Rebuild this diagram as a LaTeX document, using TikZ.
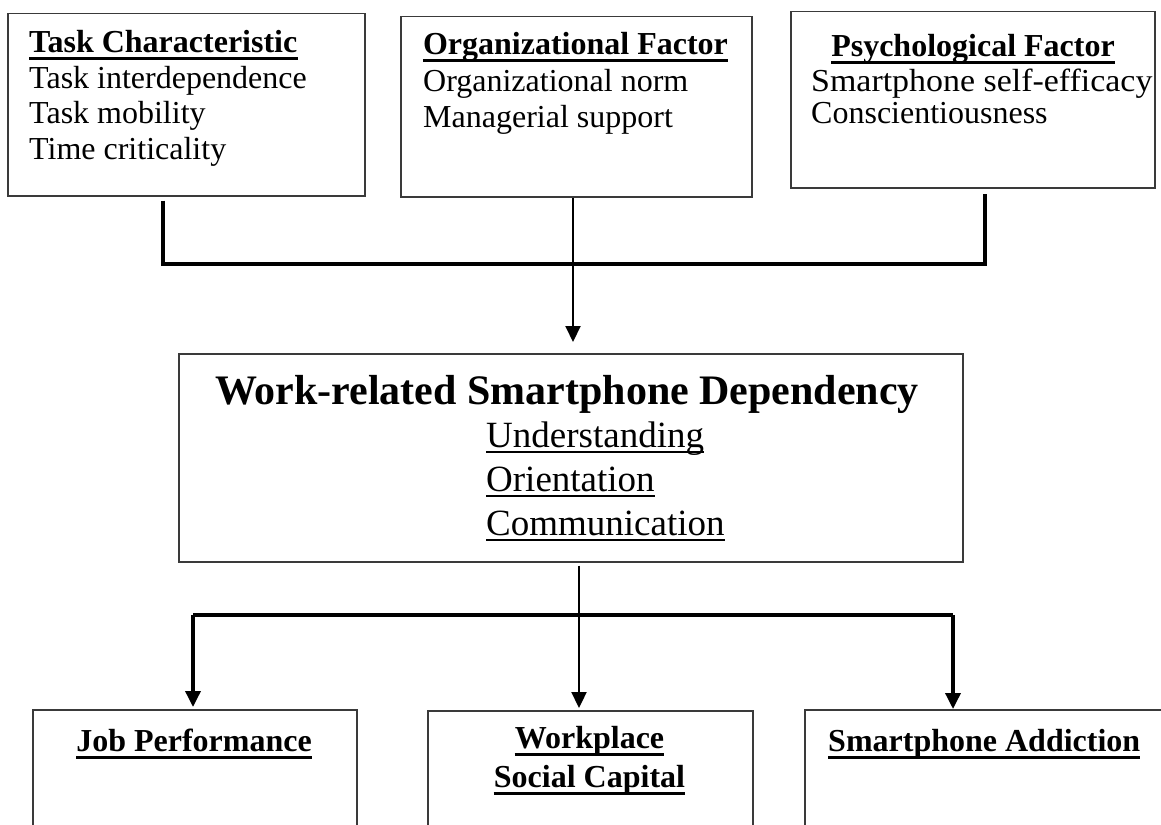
\documentclass[tikz,border=0pt]{standalone}
\usepackage{fontspec}
\setmainfont{Liberation Serif}
\usetikzlibrary{arrows.meta}
\definecolor{boxgray}{HTML}{3A3A3A}
% rule drawn under a text node: node name, rule width, depth below baseline
\newcommand{\underrule}[3]{%
  \draw[line width=#2] ([yshift=-#3]#1.base west) -- ([yshift=-#3]#1.base east);}
\begin{document}
\begin{tikzpicture}[x=1pt,y=-1pt,
  box/.style={draw=boxgray,line width=1.5pt,inner sep=0pt,anchor=north west},
  lbl/.style={inner sep=0pt,font=\fontsize{32}{35}\selectfont},
  head/.style={inner sep=0pt,font=\fontsize{32}{35}\selectfont\bfseries},
  bighead/.style={inner sep=0pt,font=\fontsize{42}{46}\selectfont\bfseries},
  item/.style={inner sep=0pt,font=\fontsize{37}{42}\selectfont,anchor=base west},
  heavy/.style={line width=4pt},
  light/.style={line width=2pt},
  tip/.style={-{Triangle[width=15pt,length=16pt]}}
]
\clip (0,0) rectangle (1161,824);
\fill[white] (0,0) rectangle (1161,824);

% ---- antecedent boxes ----
\node[box,minimum width=357pt,minimum height=182pt] (task) at (7,13) {};
\node[box,minimum width=351pt,minimum height=180pt] (org) at (400,16) {};
\node[box,minimum width=364pt,minimum height=176pt] (psych) at (790,11) {};

\node[head,anchor=base west] (taskh) at (29,53) {Task Characteristic};
\underrule{taskh}{3pt}{6pt}
\node[lbl,anchor=base west] (task1) at (29,89) {Task interdependence};
\node[lbl,anchor=base west] (task2) at (29,124) {Task mobility};
\node[lbl,anchor=base west] (task3) at (29,159) {Time criticality};

\node[head,anchor=base] (orgh) at (575.5,55) {Organizational Factor};
\underrule{orgh}{3pt}{6pt}
\node[lbl,anchor=base west] (org1) at (423,92) {Organizational norm};
\node[lbl,anchor=base west] (org2) at (423,128) {Managerial support};

\node[head,anchor=base] (psychh) at (973,57) {Psychological Factor};
\underrule{psychh}{3pt}{6pt}
\node[lbl,anchor=base west] (psych1) at (811,92) {\scalebox{1.06}[1]{Smartphone self-efficacy}};
\node[lbl,anchor=base west] (psych2) at (811,124) {Conscientiousness};

% ---- central construct ----
\node[box,minimum width=784pt,minimum height=208pt] (mid) at (178,353) {};
\node[bighead,anchor=base] (midh) at (567,404) {Work-related Smartphone Dependency};
\node[item] (mid1) at (486,447) {Understanding};
\underrule{mid1}{2pt}{5pt}
\node[item] (mid2) at (486,491) {Orientation};
\underrule{mid2}{2pt}{5pt}
\node[item] (mid3) at (486,535) {Communication};
\underrule{mid3}{2pt}{5pt}

% ---- outcome boxes ----
\node[box,minimum width=324pt,minimum height=140pt] (job) at (32,709) {};
\node[box,minimum width=325pt,minimum height=140pt] (work) at (427,710) {};
\node[box,minimum width=380pt,minimum height=140pt] (addict) at (804,709) {};

\node[head,anchor=base] (jobh) at (194,751) {Job Performance};
\underrule{jobh}{3pt}{6pt}
\node[head,anchor=base] (workh1) at (589.5,748) {Workplace};
\underrule{workh1}{3pt}{6pt}
\node[head,anchor=base] (workh2) at (589.5,787) {Social Capital};
\underrule{workh2}{3pt}{6pt}
\node[head,anchor=base west] (addicth) at (828,751) {Smartphone Addiction};
\underrule{addicth}{3pt}{6pt}

% ---- connectors: antecedents merge into the central construct ----
\coordinate (tj) at (163,264);
\coordinate (pj) at (985,264);
\coordinate (ax) at (573,264);
\draw[heavy] ([yshift=-4pt]task.south -| tj) -- (tj) -- (pj) -- ([yshift=-5pt]psych.south -| pj);
\draw[light,tip] (org.south -| ax) -- ([yshift=11pt]mid.north -| ax);

% ---- connectors: central construct fans out to outcomes ----
\coordinate (bl) at (193,615);
\coordinate (br) at (953,615);
\coordinate (bx) at (579,615);
\draw[line width=3.3pt] (bl) -- (br);
\draw[line width=3.5pt,tip] (bl) -- ([yshift=2pt]job.north -| bl);
\draw[line width=3.5pt,tip] (br) -- (addict.north -| br);
\draw[line width=2.3pt,tip] ([yshift=-3pt]mid.south -| bx) -- ([yshift=2pt]work.north -| bx);
\end{tikzpicture}
\end{document}
